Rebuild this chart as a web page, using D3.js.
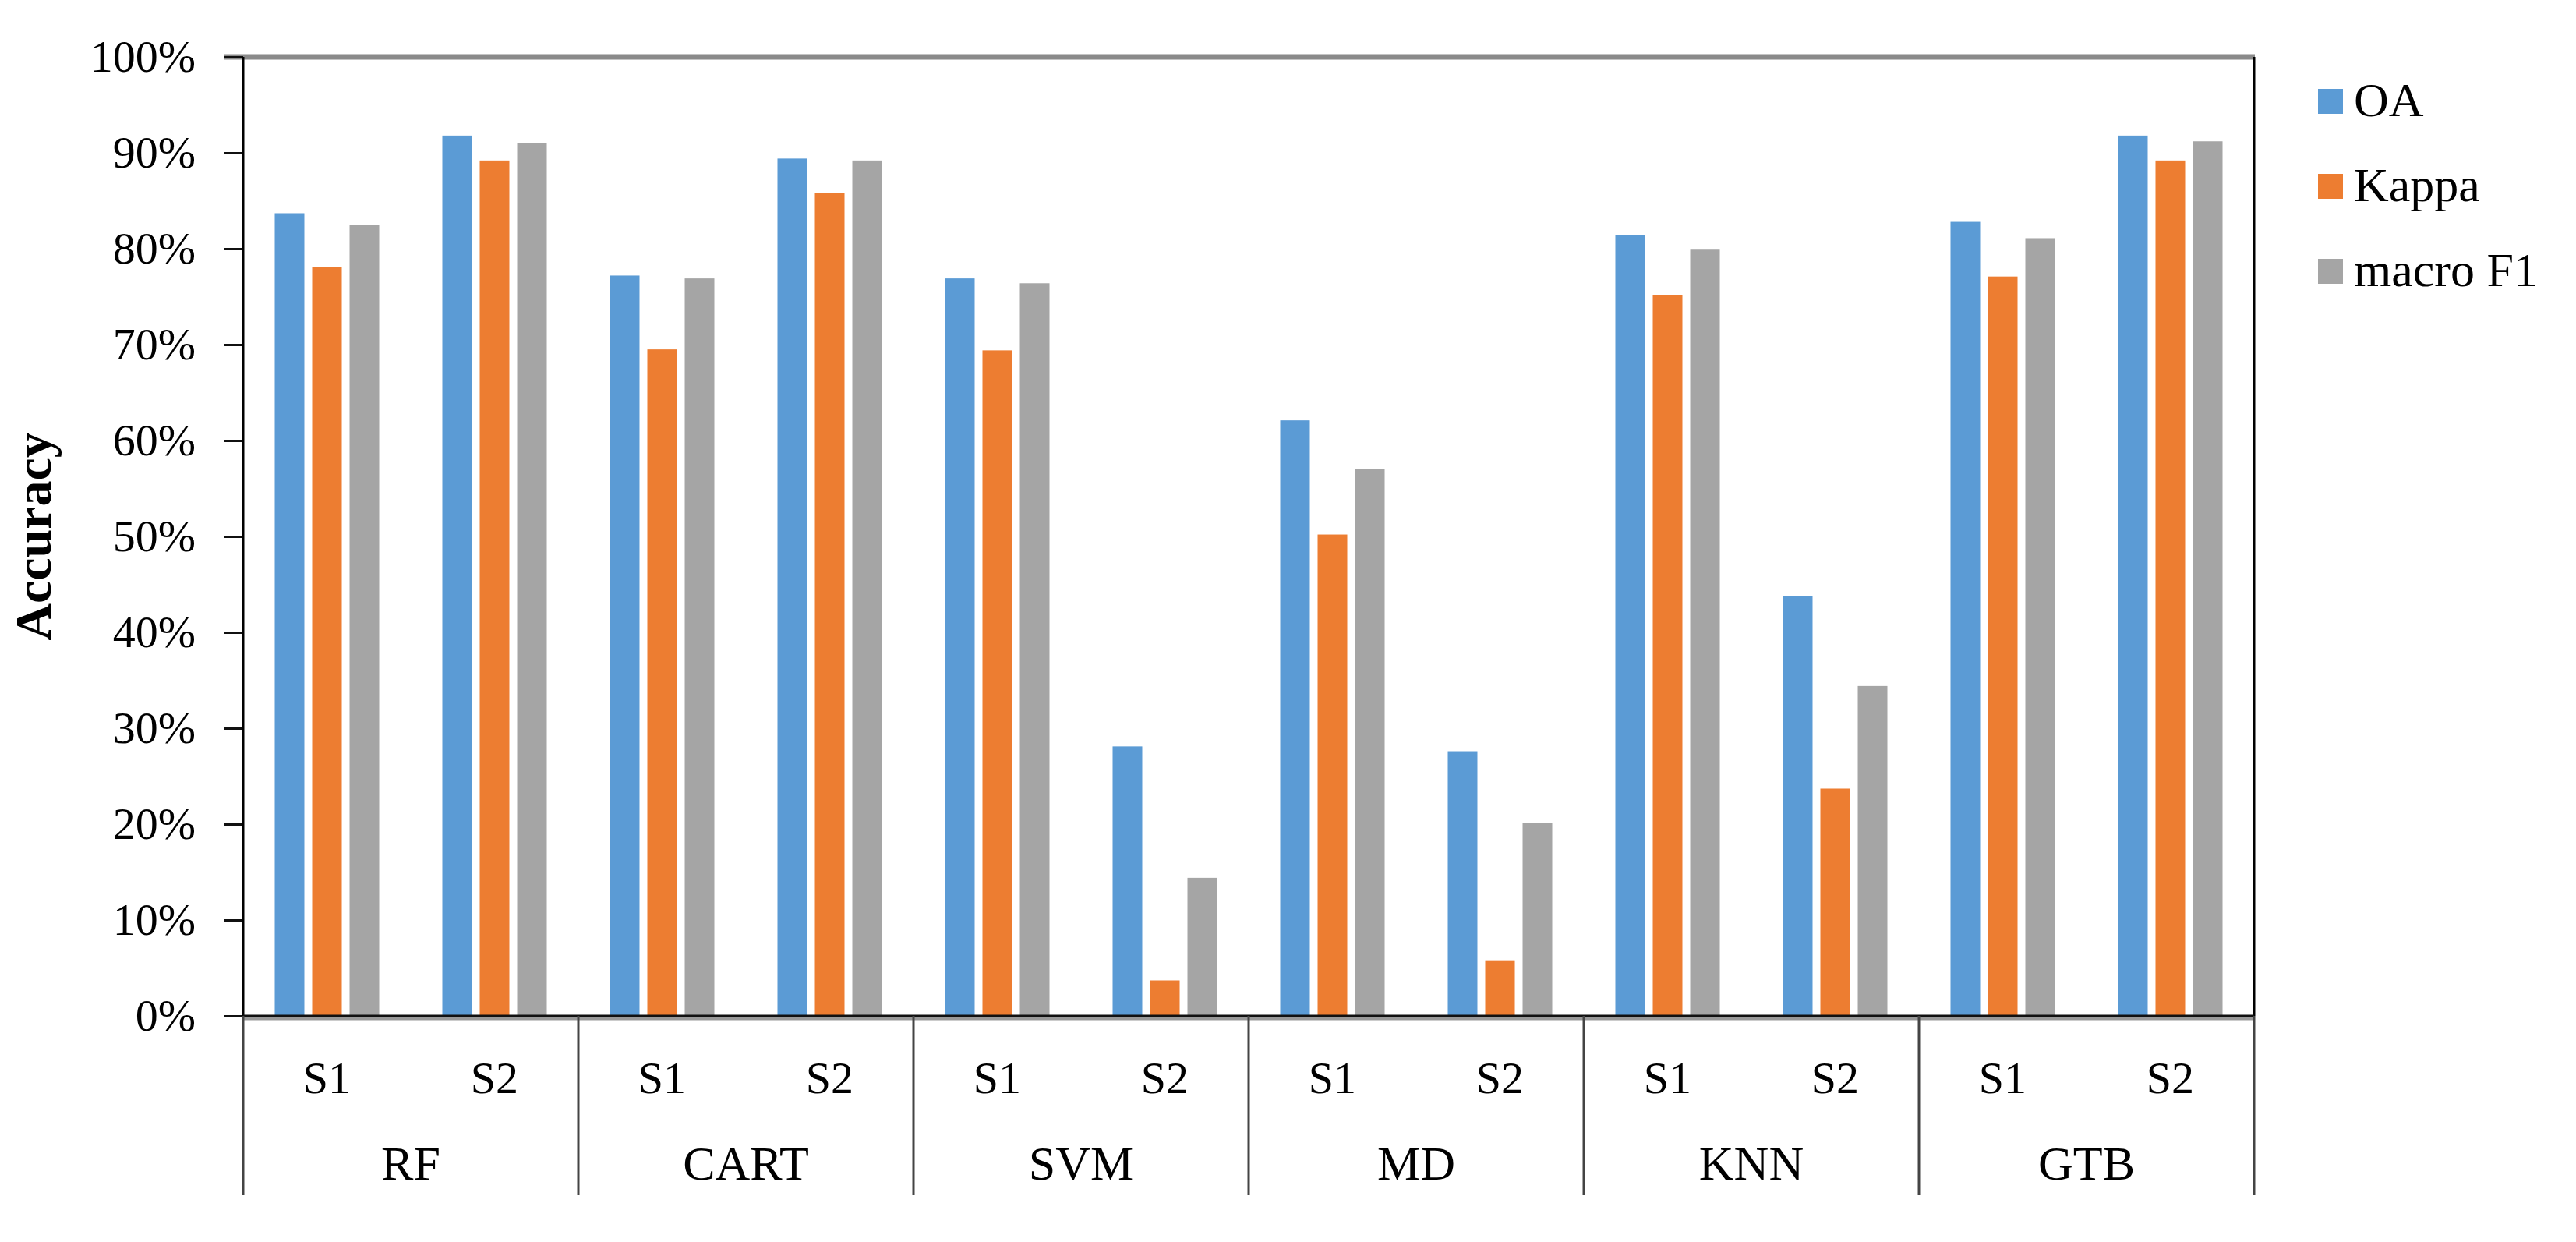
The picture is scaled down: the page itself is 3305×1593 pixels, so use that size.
<!DOCTYPE html>
<html>
<head>
<meta charset="utf-8">
<script src="https://cdn.jsdelivr.net/npm/d3@7"></script>
<style>
  body { margin: 0; background: #fff; }
  text { font-family: "Liberation Serif", "Times New Roman", serif; fill: #000; }
</style>
</head>
<body>
<div class="canva"></div>
<script>
// data (percent)
const groups = ["RF", "CART", "SVM", "MD", "KNN", "GTB"];
const subsets = ["S1", "S2"];
const series = ["OA", "Kappa", "macro F1"];
const oaValues    = [83.7, 91.8, 77.2, 89.4, 76.9, 28.1, 62.1, 27.6, 81.4, 43.8, 82.8, 91.8];
const kappaValues = [78.1, 89.2, 69.5, 85.8, 69.4, 3.7, 50.2, 5.8, 75.2, 23.7, 77.1, 89.2];
const f1Values    = [82.5, 91.0, 76.9, 89.2, 76.4, 14.4, 57.0, 20.1, 79.9, 34.4, 81.1, 91.2];
const yTicks = [0, 0.1, 0.2, 0.3, 0.4, 0.5, 0.6, 0.7, 0.8, 0.9, 1.0];

const colors = ["#5b9bd5", "#ed7d31", "#a5a5a5"];

const svg = d3.select(".canva").append("svg")
  .attr("width", 3305)
  .attr("height", 1593);

const plot = {left: 312, right: 2892, top: 73, bottom: 1303};

// categories like "RF|S1"
const cats = [];
groups.forEach(g => subsets.forEach(s => cats.push(g + "|" + s)));

const rows = cats.map((c, i) => ({cat: c, values: [oaValues[i], kappaValues[i], f1Values[i]]}));

const xGroup = d3.scaleBand().domain(groups).range([plot.left, plot.right]);
const x0 = d3.scaleBand().domain(cats).range([plot.left, plot.right]);
const bw = x0.bandwidth();
const x1 = d3.scaleBand().domain(d3.range(series.length))
  .range([(bw - 144) / 2, (bw + 144) / 2])
  .paddingInner(0.2083).paddingOuter(0.104);

const y = d3.scaleLinear().domain([0, 1]).range([plot.bottom, plot.top]);

// top border
svg.append("line")
  .attr("x1", 288).attr("x2", plot.right + 1)
  .attr("y1", plot.top).attr("y2", plot.top)
  .attr("stroke", "#8a8a8a").attr("stroke-width", 7);

// bars
const cat = svg.append("g").selectAll("g")
  .data(rows).enter().append("g")
  .attr("transform", d => `translate(${x0(d.cat)},0)`);

cat.selectAll("rect")
  .data(d => d.values)
  .enter().append("rect")
  .attr("x", (d, i) => x1(i))
  .attr("width", x1.bandwidth())
  .attr("y", d => y(d / 100))
  .attr("height", d => y(0) - y(d / 100))
  .attr("fill", (d, i) => colors[i]);

// y axis
const yAxis = d3.axisLeft(y)
  .tickValues(yTicks)
  .tickFormat(d3.format(".0%"))
  .tickSize(24)
  .tickPadding(37);

const yg = svg.append("g")
  .attr("transform", `translate(${plot.left},0)`)
  .call(yAxis);
yg.select(".domain").remove();
yg.selectAll(".tick line").attr("stroke", "#111").attr("stroke-width", 3);
yg.selectAll(".tick text")
  .style("font-size", "58px")
  .attr("font-family", null);

// left axis line and right border
svg.append("line")
  .attr("x1", plot.left).attr("x2", plot.left)
  .attr("y1", plot.top).attr("y2", plot.bottom)
  .attr("stroke", "#000").attr("stroke-width", 3);
svg.append("line")
  .attr("x1", plot.right).attr("x2", plot.right)
  .attr("y1", plot.top).attr("y2", plot.bottom)
  .attr("stroke", "#000").attr("stroke-width", 3);

// x axis line
svg.append("line")
  .attr("x1", plot.left).attr("x2", plot.right)
  .attr("y1", plot.bottom + 3.5).attr("y2", plot.bottom + 3.5)
  .attr("stroke", "#999").attr("stroke-width", 4);
svg.append("line")
  .attr("x1", plot.left).attr("x2", plot.right)
  .attr("y1", plot.bottom).attr("y2", plot.bottom)
  .attr("stroke", "#111").attr("stroke-width", 3);

// group separators below the axis
const bounds = groups.map(g => xGroup(g)).concat([plot.right]);
svg.append("g").selectAll("line")
  .data(bounds).enter().append("line")
  .attr("x1", d => d).attr("x2", d => d)
  .attr("y1", plot.bottom).attr("y2", 1533)
  .attr("stroke", "#444").attr("stroke-width", 3);

// S1 / S2 labels
svg.append("g").selectAll("text")
  .data(cats).enter().append("text")
  .attr("x", d => x0(d) + bw / 2)
  .attr("y", 1402)
  .attr("text-anchor", "middle")
  .style("font-size", "58px")
  .text(d => d.split("|")[1]);

// group labels
svg.append("g").selectAll("text")
  .data(groups).enter().append("text")
  .attr("x", d => xGroup(d) + xGroup.bandwidth() / 2)
  .attr("y", 1513)
  .attr("text-anchor", "middle")
  .style("font-size", "62px")
  .text(d => d);

// y axis title
svg.append("text")
  .attr("transform", `translate(65, ${(plot.top + plot.bottom) / 2}) rotate(-90)`)
  .attr("text-anchor", "middle")
  .style("font-size", "66px")
  .style("font-weight", "bold")
  .text("Accuracy");

// legend
const legend = svg.append("g").selectAll("g")
  .data(series).enter().append("g")
  .attr("transform", (d, i) => `translate(2974, ${130 + i * 109})`);
legend.append("rect")
  .attr("x", 0).attr("y", -16)
  .attr("width", 32).attr("height", 32)
  .attr("fill", (d, i) => colors[i]);
legend.append("text")
  .attr("x", 46).attr("y", 19)
  .style("font-size", "62px")
  .text(d => d);
</script>
</body>
</html>
